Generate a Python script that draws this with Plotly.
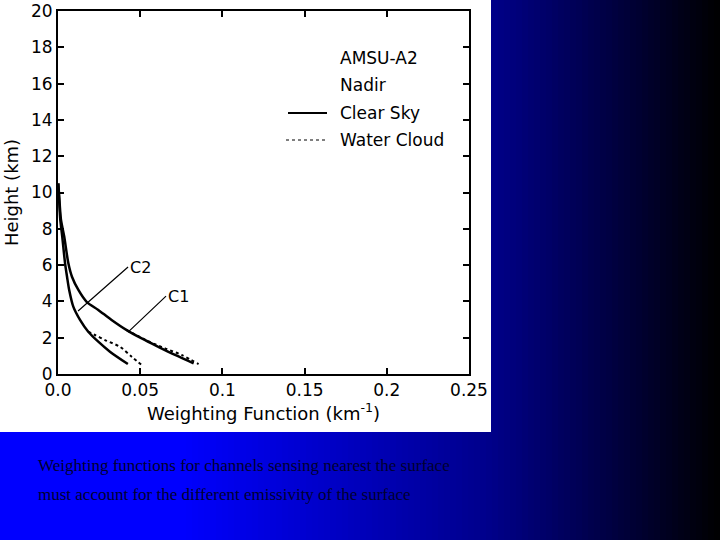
import plotly.graph_objects as go

# ---- data ----
c1_clear_h = [10.5, 9.4, 8.5, 7.56, 6.1, 5.36, 4.63, 3.98, 3.53, 2.98, 2.42, 1.96, 1.5, 1.05, 0.59]
c1_clear_w = [0.0002, 0.001, 0.0018, 0.0038, 0.0063, 0.0085, 0.0124, 0.0174, 0.0245, 0.0326, 0.0418, 0.0509, 0.061, 0.0712, 0.0825]
c2_clear_h = [10.5, 9.4, 8.5, 7.56, 6.1, 5.36, 4.63, 3.71, 2.98, 2.33, 1.78, 1.23, 0.55]
c2_clear_w = [0.0001, 0.0008, 0.0014, 0.0026, 0.0043, 0.0055, 0.0068, 0.0093, 0.0134, 0.0184, 0.0245, 0.0316, 0.0425]
c1_cloud_h = [2.42, 1.96, 1.78, 1.41, 1.05, 0.55]
c1_cloud_w = [0.0418, 0.0515, 0.0555, 0.0651, 0.0752, 0.0855]
c2_cloud_h = [2.33, 2.15, 1.87, 1.5, 0.95, 0.45]
c2_cloud_w = [0.0184, 0.0225, 0.0286, 0.0377, 0.0448, 0.0515]

x_tick_vals = [0, 0.05, 0.1, 0.15, 0.2, 0.25]
x_tick_text = ["0.0", "0.05", "0.1", "0.15", "0.2", "0.25"]
y_tick_vals = list(range(0, 21, 2))

legend_header = ["AMSU-A2", "Nadir"]
legend_names = ["Clear Sky", "Water Cloud"]
caption_lines = ["Weighting functions for channels sensing nearest the surface",
                 "must account for the different emissivity of the surface"]

FONT = "DejaVu Sans"

fig = go.Figure()
for w, h in [(c1_clear_w, c1_clear_h), (c2_clear_w, c2_clear_h)]:
    fig.add_trace(go.Scatter(x=w, y=h, mode="lines", line=dict(color="black", width=2.5, shape="spline", smoothing=0.8),
                             showlegend=False, hoverinfo="skip"))
for w, h in [(c1_cloud_w, c1_cloud_h), (c2_cloud_w, c2_cloud_h)]:
    fig.add_trace(go.Scatter(x=w, y=h, mode="lines", line=dict(color="black", width=2, dash="dot", shape="spline", smoothing=0.8),
                             showlegend=False, hoverinfo="skip"))

# ---- page geometry (pixels -> paper) ----
L, R, T, B = 58, 469, 11, 374
def px(xp):
    return (xp - L) / (R - L)
def py(yp):
    return (B - yp) / (B - T)

shapes = []
# gradient background strips
def blue_at(x):
    if x <= 180:
        return 255
    if x <= 490:
        return 255 - (255 - 138) * (x - 180) / 310
    return 138 * (720 - x) / 230
step = 6
for x0 in range(0, 720, step):
    b = int(round(blue_at(x0 + step / 2)))
    shapes.append(dict(type="rect", xref="paper", yref="paper", x0=px(x0), x1=px(x0 + step + 0.5),
                       y0=py(541), y1=py(-1), fillcolor=f"rgb(0,0,{b})", line=dict(width=0), layer="below"))
# white panel
shapes.append(dict(type="rect", xref="paper", yref="paper", x0=px(-1), x1=px(491), y0=py(432), y1=py(-1),
                   fillcolor="white", line=dict(width=0), layer="below"))
# legend samples
shapes.append(dict(type="line", xref="paper", yref="paper", x0=px(288), x1=px(327), y0=py(113), y1=py(113),
                   line=dict(color="black", width=2)))
shapes.append(dict(type="line", xref="paper", yref="paper", x0=px(286), x1=px(327), y0=py(140), y1=py(140),
                   line=dict(color="black", width=1.2, dash="dot")))

annotations = []
for txt, yy in zip(legend_header + legend_names, [58, 85, 113, 140]):
    annotations.append(dict(xref="paper", yref="paper", x=px(338), y=py(yy), text=txt, showarrow=False,
                            xanchor="left", yanchor="middle", font=dict(family=FONT, size=17, color="black")))
# curve labels with leader lines
annotations.append(dict(x=0.0122, y=3.47, xref="x", yref="y", text="C2", showarrow=True, arrowhead=0,
                        arrowwidth=1.2, arrowcolor="black", ax=50, ay=-44, xanchor="left",
                        font=dict(family=FONT, size=16, color="black")))
annotations.append(dict(x=0.0426, y=2.31, xref="x", yref="y", text="C1", showarrow=True, arrowhead=0,
                        arrowwidth=1.2, arrowcolor="black", ax=38, ay=-36, xanchor="left",
                        font=dict(family=FONT, size=16, color="black")))
# caption
for txt, yy in zip(caption_lines, [465, 494]):
    annotations.append(dict(xref="paper", yref="paper", x=px(36), y=py(yy), text=txt, showarrow=False,
                            xanchor="left", yanchor="middle",
                            font=dict(family="Liberation Serif", size=17, color="#000030")))

fig.update_layout(
    width=720, height=540,
    margin=dict(l=L, r=720 - R, t=T, b=540 - B),
    paper_bgcolor="rgb(0,0,255)", plot_bgcolor="white",
    showlegend=False, shapes=shapes, annotations=annotations,
    font=dict(family=FONT, size=17, color="black"),
)
fig.update_xaxes(range=[0, 0.25], tickvals=x_tick_vals, ticktext=x_tick_text, ticks="inside", ticklen=6,
                 tickwidth=2, tickcolor="black", showline=True, linewidth=2, linecolor="black", mirror="ticks",
                 showgrid=False, zeroline=False, tickfont=dict(family=FONT, size=17), automargin=False,
                 title=dict(text="Weighting Function (km<sup>-1</sup>)", font=dict(family=FONT, size=18), standoff=6))
fig.update_yaxes(range=[0, 20], tickvals=y_tick_vals, ticks="inside", ticklen=6, tickwidth=2, tickcolor="black",
                 showline=True, linewidth=2, linecolor="black", mirror="ticks", showgrid=False, zeroline=False,
                 tickfont=dict(family=FONT, size=17), automargin=False,
                 title=dict(text="Height (km)", font=dict(family=FONT, size=18), standoff=8))

fig.write_html("out.html", config={"displayModeBar": False},
               post_script="document.body.style.margin='0';document.body.style.overflow='hidden';")
